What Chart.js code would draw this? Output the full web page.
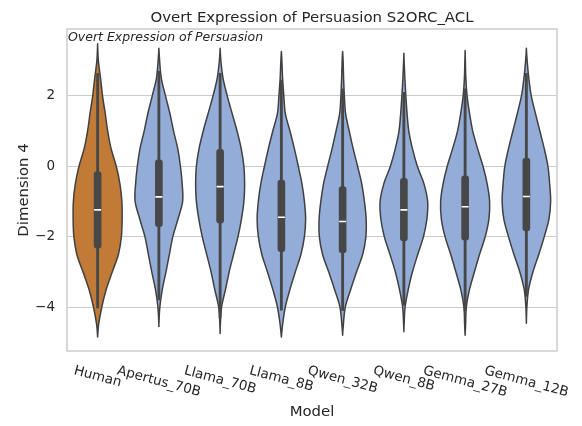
<!DOCTYPE html>
<html><head><meta charset="utf-8">
<script src="https://cdn.jsdelivr.net/npm/chart.js@4.4.1/dist/chart.umd.min.js"></script>
<style>html,body{margin:0;padding:0;background:#fff;}</style>
</head><body>
<canvas id="c" width="582" height="426"></canvas>
<script>
// ---------------- data ----------------
const categories = ['Human','Apertus_70B','Llama_70B','Llama_8B','Qwen_32B','Qwen_8B','Gemma_27B','Gemma_12B'];
const yTicks = [-4, -2, 0, 2];
// density profile levels (Dimension 4 values) and relative half-widths per model
const densityLevels = [3.0,2.5,2.0,1.5,1.0,0.5,0.0,-0.5,-1.0,-1.5,-2.0,-2.5,-3.0,-3.5,-4.0,-4.5];
const densHuman      = [0.03,0.12,0.20,0.31,0.41,0.55,0.76,0.91,0.99,1.00,0.97,0.85,0.60,0.35,0.17,0.04];
const densApertus70B = [0.03,0.10,0.27,0.45,0.60,0.77,0.88,0.95,0.97,0.78,0.57,0.43,0.29,0.14,0.04,0.00];
const densLlama70B   = [0.03,0.12,0.29,0.49,0.69,0.86,0.97,1.00,0.97,0.87,0.73,0.55,0.37,0.22,0.06,0.01];
const densLlama8B    = [0.02,0.05,0.10,0.16,0.35,0.53,0.69,0.84,0.94,0.99,0.94,0.80,0.57,0.35,0.16,0.05];
const densQwen32B    = [0.02,0.04,0.07,0.12,0.27,0.43,0.61,0.78,0.89,0.96,0.95,0.82,0.57,0.33,0.11,0.03];
const densQwen8B     = [0.01,0.04,0.08,0.13,0.20,0.35,0.55,0.82,0.97,0.94,0.80,0.57,0.35,0.18,0.05,0.01];
const densGemma27B   = [0.01,0.03,0.08,0.18,0.31,0.51,0.73,0.90,1.00,0.97,0.82,0.59,0.38,0.18,0.05,0.02];
const densGemma12B   = [0.03,0.10,0.20,0.37,0.55,0.73,0.88,0.95,0.99,0.92,0.73,0.51,0.27,0.09,0.02,0.00];
const tipTop    = [3.48, 3.35, 3.35, 3.26, 3.26, 3.21, 3.29, 3.35];
const tipBottom = [-4.85,-4.54,-4.75,-4.85,-4.80,-4.70,-4.80,-4.46];
const q1       = [-2.33,-1.72,-1.62,-2.43,-2.46,-2.12,-2.10,-1.84];
const q3       = [-0.15, 0.18, 0.48,-0.39,-0.58,-0.34,-0.27, 0.23];
const medians  = [-1.24,-0.87,-0.58,-1.45,-1.57,-1.24,-1.15,-0.86];
const whiskerLo = [-4.03,-3.80,-4.30,-4.09,-4.10,-3.95,-4.10,-3.70];
const whiskerHi = [ 2.64, 2.70, 2.64, 2.45, 2.20, 2.10, 2.20, 2.64];

const densities = [densHuman,densApertus70B,densLlama70B,densLlama8B,densQwen32B,densQwen8B,densGemma27B,densGemma12B];
const fillColors = categories.map((c,i)=> i===0 ? '#C27B36' : '#93ADD8');
const FONT = 'DejaVu Sans';
const TXT = '#262626';

function spline(ctx, pts){
  for(let j=0;j<pts.length-1;j++){
    const p0=pts[Math.max(j-1,0)], p1=pts[j], p2=pts[j+1], p3=pts[Math.min(j+2,pts.length-1)];
    const t=1/6;
    ctx.bezierCurveTo(p1.x+(p2.x-p0.x)*t, p1.y+(p2.y-p0.y)*t,
                      p2.x-(p3.x-p1.x)*t, p2.y-(p3.y-p1.y)*t, p2.x, p2.y);
  }
}

const violinPlugin = {
  id:'violins',
  beforeDatasetsDraw(chart){
    const {ctx, scales:{x,y}, chartArea} = chart;
    const catW = x.getPixelForValue(1) - x.getPixelForValue(0);
    const maxHalf = 0.4 * catW;
    ctx.save();
    ctx.beginPath();
    ctx.rect(chartArea.left, chartArea.top, chartArea.right-chartArea.left, chartArea.bottom-chartArea.top);
    ctx.clip();
    categories.forEach((c,i)=>{
      const cx = x.getPixelForValue(i);
      const prof = [[tipTop[i],0]];
      densityLevels.forEach((lv,k)=>{ if(lv<tipTop[i] && lv>tipBottom[i]) prof.push([lv, densities[i][k]]); });
      prof.push([tipBottom[i],0]);
      const right = prof.map(([v,w])=>({x:cx+w*maxHalf, y:y.getPixelForValue(v)}));
      const left = right.slice().reverse().map(p=>({x:2*cx-p.x, y:p.y}));
      ctx.beginPath();
      ctx.moveTo(right[0].x, right[0].y);
      spline(ctx, right);
      spline(ctx, left);
      ctx.closePath();
      ctx.fillStyle = fillColors[i];
      ctx.fill();
      ctx.lineWidth = 1.5;
      ctx.lineJoin = 'round';
      ctx.strokeStyle = '#404040';
      ctx.stroke();
    });
    ctx.restore();
  }
};

const textPlugin = {
  id:'texts',
  afterDraw(chart){
    const {ctx, scales:{x}, chartArea} = chart;
    ctx.save();
    // spines
    ctx.strokeStyle = '#cccccc';
    ctx.lineWidth = 1.5;
    ctx.strokeRect(chartArea.left, chartArea.top, chartArea.right-chartArea.left, chartArea.bottom-chartArea.top);
    ctx.fillStyle = TXT;
    // title
    ctx.font = `14.9px "${FONT}"`;
    ctx.textAlign = 'center';
    ctx.textBaseline = 'alphabetic';
    ctx.fillText('Overt Expression of Persuasion S2ORC_ACL', (chartArea.left+chartArea.right)/2, 22);
    // annotation
    ctx.font = `italic 12.5px "${FONT}"`;
    ctx.textAlign = 'left';
    ctx.fillText('Overt Expression of Persuasion', chartArea.left+1, 40.5);
    // x tick labels rotated 15 deg clockwise
    ctx.font = `13.5px "${FONT}"`;
    const ang = 15*Math.PI/180;
    const h = 13.5*1.164;
    categories.forEach((c,i)=>{
      const px = x.getPixelForValue(i);
      const L = ctx.measureText(c).width;
      const bh = L*Math.sin(ang) + h*Math.cos(ang);
      const cy = 363 + bh/2;
      ctx.save();
      ctx.translate(px, cy);
      ctx.rotate(ang);
      ctx.textAlign = 'center';
      ctx.textBaseline = 'middle';
      ctx.fillText(c, 0, 0);
      ctx.restore();
    });
    // axis labels
    ctx.font = `14.9px "${FONT}"`;
    ctx.textAlign = 'center';
    ctx.textBaseline = 'alphabetic';
    ctx.fillText('Model', (chartArea.left+chartArea.right)/2, 416);
    ctx.save();
    ctx.translate(28.3, (chartArea.top+chartArea.bottom)/2);
    ctx.rotate(-Math.PI/2);
    ctx.fillText('Dimension 4', 0, 0);
    ctx.restore();
    ctx.restore();
  }
};

new Chart(document.getElementById('c'), {
  type:'bar',
  data:{
    labels: categories,
    datasets:[
      { type:'line', label:'median', data: medians, showLine:false, pointStyle:'line',
        pointRadius:3.5, pointBorderColor:'#ffffff', pointBorderWidth:1.6, order:0 },
      { label:'box', data: q1.map((v,i)=>[v,q3[i]]), barThickness:7, grouped:false,
        backgroundColor:'#474747', borderRadius:3, borderSkipped:false, order:1 },
      { label:'whisker', data: whiskerLo.map((v,i)=>[v,whiskerHi[i]]), barThickness:2.2, grouped:false,
        backgroundColor:'#474747', order:2 }
    ]
  },
  options:{
    responsive:false, animation:false, devicePixelRatio:1,
    layout:{padding:{left:0, top:29, right:25, bottom:0}},
    plugins:{legend:{display:false}, tooltip:{enabled:false}, title:{display:false}},
    scales:{
      x:{ type:'category', offset:true, grid:{display:false}, border:{display:false},
          ticks:{display:false}, afterFit(s){ s.height = 75; } },
      y:{ type:'linear', min:-5.25, max:3.9,
          afterBuildTicks(s){ s.ticks = yTicks.map(v=>({value:v})); },
          ticks:{ padding:12, color:TXT, font:{family:FONT, size:13.5},
                  callback:(v)=> String(v).replace('-', '\u2212') },
          grid:{ color:'#cccccc', lineWidth:1, drawTicks:false },
          border:{display:false},
          afterFit(s){ s.width = 67; } }
    }
  },
  plugins:[violinPlugin, textPlugin]
});
</script>
</body></html>
